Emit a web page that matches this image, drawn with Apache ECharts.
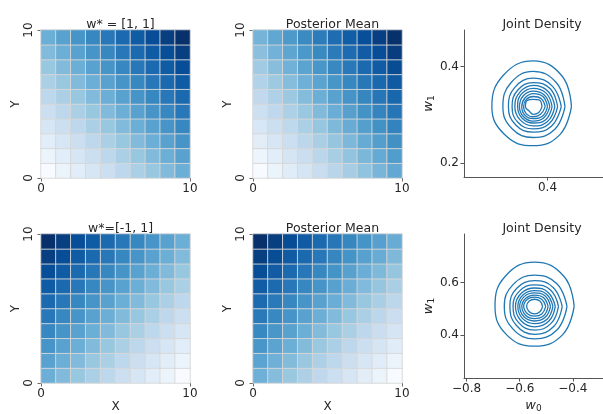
<!DOCTYPE html>
<html>
<head>
<meta charset="utf-8">
<script src="https://cdn.jsdelivr.net/npm/echarts@6/dist/echarts.min.js"></script>
<style>
  html, body { margin: 0; padding: 0; background: #fff; }
  #main { width: 603px; height: 414px; }
</style>
</head>
<body>
<div id="main"></div>
<script>
// cell indices (10 x 10 grid), rows listed bottom (y=0) to top
const cells = ['0', '1', '2', '3', '4', '5', '6', '7', '8', '9'];
const heatTicks = [0, 10];

const trueTop = [
  [1, 2, 3, 4, 5, 6, 7, 8, 9, 10],
  [2, 3, 4, 5, 6, 7, 8, 9, 10, 11],
  [3, 4, 5, 6, 7, 8, 9, 10, 11, 12],
  [4, 5, 6, 7, 8, 9, 10, 11, 12, 13],
  [5, 6, 7, 8, 9, 10, 11, 12, 13, 14],
  [6, 7, 8, 9, 10, 11, 12, 13, 14, 15],
  [7, 8, 9, 10, 11, 12, 13, 14, 15, 16],
  [8, 9, 10, 11, 12, 13, 14, 15, 16, 17],
  [9, 10, 11, 12, 13, 14, 15, 16, 17, 18],
  [10, 11, 12, 13, 14, 15, 16, 17, 18, 19]
];
const postTop = [
  [1.0, 2.05, 3.1, 4.15, 5.2, 6.25, 7.3, 8.35, 9.4, 10.45],
  [1.95, 3.0, 4.05, 5.1, 6.15, 7.2, 8.25, 9.3, 10.35, 11.4],
  [2.9, 3.95, 5.0, 6.05, 7.1, 8.15, 9.2, 10.25, 11.3, 12.35],
  [3.85, 4.9, 5.95, 7.0, 8.05, 9.1, 10.15, 11.2, 12.25, 13.3],
  [4.8, 5.85, 6.9, 7.95, 9.0, 10.05, 11.1, 12.15, 13.2, 14.25],
  [5.75, 6.8, 7.85, 8.9, 9.95, 11.0, 12.05, 13.1, 14.15, 15.2],
  [6.7, 7.75, 8.8, 9.85, 10.9, 11.95, 13.0, 14.05, 15.1, 16.15],
  [7.65, 8.7, 9.75, 10.8, 11.85, 12.9, 13.95, 15.0, 16.05, 17.1],
  [8.6, 9.65, 10.7, 11.75, 12.8, 13.85, 14.9, 15.95, 17.0, 18.05],
  [9.55, 10.6, 11.65, 12.7, 13.75, 14.8, 15.85, 16.9, 17.95, 19.0]
];
const trueBottom = [
  [0, -1, -2, -3, -4, -5, -6, -7, -8, -9],
  [1, 0, -1, -2, -3, -4, -5, -6, -7, -8],
  [2, 1, 0, -1, -2, -3, -4, -5, -6, -7],
  [3, 2, 1, 0, -1, -2, -3, -4, -5, -6],
  [4, 3, 2, 1, 0, -1, -2, -3, -4, -5],
  [5, 4, 3, 2, 1, 0, -1, -2, -3, -4],
  [6, 5, 4, 3, 2, 1, 0, -1, -2, -3],
  [7, 6, 5, 4, 3, 2, 1, 0, -1, -2],
  [8, 7, 6, 5, 4, 3, 2, 1, 0, -1],
  [9, 8, 7, 6, 5, 4, 3, 2, 1, 0]
];
const postBottom = [
  [0.0, -1.0, -1.9, -2.9, -3.9, -4.8, -5.8, -6.8, -7.7, -8.7],
  [1.0, 0.0, -0.9, -1.9, -2.9, -3.8, -4.8, -5.8, -6.7, -7.7],
  [2.0, 1.0, 0.1, -0.9, -1.9, -2.8, -3.8, -4.8, -5.7, -6.7],
  [3.0, 2.0, 1.1, 0.1, -0.9, -1.8, -2.8, -3.8, -4.7, -5.7],
  [4.0, 3.0, 2.1, 1.1, 0.1, -0.8, -1.8, -2.8, -3.7, -4.7],
  [5.0, 4.0, 3.1, 2.1, 1.1, 0.2, -0.8, -1.8, -2.7, -3.7],
  [6.0, 5.0, 4.1, 3.1, 2.1, 1.2, 0.2, -0.8, -1.7, -2.7],
  [7.0, 6.0, 5.1, 4.1, 3.1, 2.2, 1.2, 0.2, -0.7, -1.7],
  [8.0, 7.0, 6.1, 5.1, 4.1, 3.2, 2.2, 1.2, 0.3, -0.7],
  [9.0, 8.0, 7.1, 6.1, 5.1, 4.2, 3.2, 2.2, 1.3, 0.3]
];

const heatTitles = ['w* = [1, 1]', 'Posterior Mean', 'w*=[-1, 1]', 'Posterior Mean'];

// joint density contours (outer -> inner)
const topRings = [
  [[0.452, 0.317], [0.432, 0.380], [0.369, 0.412], [0.304, 0.382], [0.279, 0.317], [0.309, 0.257], [0.369, 0.236], [0.427, 0.259]],
  [[0.438, 0.317], [0.419, 0.367], [0.369, 0.390], [0.320, 0.366], [0.303, 0.317], [0.323, 0.271], [0.369, 0.253], [0.416, 0.270]],
  [[0.430, 0.317], [0.411, 0.359], [0.369, 0.376], [0.329, 0.357], [0.315, 0.317], [0.331, 0.279], [0.369, 0.264], [0.409, 0.277]],
  [[0.422, 0.317], [0.406, 0.354], [0.369, 0.367], [0.335, 0.351], [0.323, 0.317], [0.336, 0.284], [0.369, 0.271], [0.404, 0.282]],
  [[0.416, 0.317], [0.401, 0.349], [0.369, 0.361], [0.340, 0.347], [0.329, 0.317], [0.341, 0.289], [0.369, 0.277], [0.400, 0.286]],
  [[0.410, 0.317], [0.397, 0.345], [0.369, 0.355], [0.343, 0.343], [0.335, 0.317], [0.345, 0.293], [0.369, 0.283], [0.396, 0.290]],
  [[0.405, 0.317], [0.393, 0.341], [0.369, 0.349], [0.347, 0.339], [0.339, 0.317], [0.348, 0.296], [0.369, 0.287], [0.392, 0.294]],
  [[0.400, 0.317], [0.390, 0.338], [0.369, 0.344], [0.351, 0.335], [0.344, 0.317], [0.351, 0.299], [0.369, 0.292], [0.389, 0.297]],
  [[0.395, 0.317], [0.386, 0.334], [0.369, 0.338], [0.354, 0.332], [0.348, 0.317], [0.354, 0.302], [0.369, 0.296], [0.385, 0.301]],
  [[0.388, 0.317], [0.382, 0.331], [0.369, 0.332], [0.356, 0.330], [0.352, 0.317], [0.360, 0.308], [0.369, 0.301], [0.381, 0.305]]
];
const bottomRings = [
  [[-0.395, 0.509], [-0.433, 0.623], [-0.544, 0.678], [-0.655, 0.623], [-0.693, 0.509], [-0.649, 0.400], [-0.544, 0.357], [-0.439, 0.400]],
  [[-0.422, 0.509], [-0.460, 0.595], [-0.544, 0.628], [-0.625, 0.592], [-0.658, 0.509], [-0.626, 0.423], [-0.544, 0.385], [-0.459, 0.420]],
  [[-0.440, 0.509], [-0.474, 0.581], [-0.544, 0.607], [-0.611, 0.578], [-0.637, 0.509], [-0.613, 0.437], [-0.544, 0.402], [-0.471, 0.433]],
  [[-0.454, 0.509], [-0.484, 0.571], [-0.544, 0.591], [-0.601, 0.567], [-0.625, 0.509], [-0.604, 0.447], [-0.544, 0.418], [-0.482, 0.444]],
  [[-0.466, 0.509], [-0.493, 0.562], [-0.544, 0.579], [-0.593, 0.560], [-0.616, 0.509], [-0.596, 0.455], [-0.544, 0.431], [-0.490, 0.453]],
  [[-0.475, 0.509], [-0.499, 0.555], [-0.544, 0.569], [-0.587, 0.553], [-0.607, 0.509], [-0.589, 0.462], [-0.544, 0.443], [-0.497, 0.460]],
  [[-0.484, 0.509], [-0.505, 0.549], [-0.544, 0.560], [-0.582, 0.547], [-0.600, 0.509], [-0.583, 0.468], [-0.544, 0.453], [-0.504, 0.467]],
  [[-0.493, 0.509], [-0.511, 0.543], [-0.544, 0.552], [-0.576, 0.541], [-0.592, 0.509], [-0.577, 0.474], [-0.544, 0.462], [-0.510, 0.473]],
  [[-0.502, 0.509], [-0.517, 0.536], [-0.544, 0.544], [-0.571, 0.536], [-0.585, 0.509], [-0.571, 0.481], [-0.544, 0.472], [-0.517, 0.480]],
  [[-0.514, 0.509], [-0.524, 0.529], [-0.544, 0.536], [-0.564, 0.529], [-0.574, 0.509], [-0.564, 0.488], [-0.544, 0.480], [-0.524, 0.488]]
];
const topXTicks = [0.4];
const topYTicks = [0.2, 0.4];
const bottomXTicks = [-0.8, -0.6, -0.4];
const bottomYTicks = [0.4, 0.6];

const FONT = 'DejaVu Sans';
const TEXT = '#262626';
const blues = ['#f7fbff', '#deebf7', '#c6dbef', '#9ecae1', '#6baed6', '#4292c6', '#2171b5', '#08519c', '#08306b'];

const chart = echarts.init(document.getElementById('main'), null, { renderer: 'canvas' });

const grids = [
  { left: 41, top: 30, width: 149, height: 148 },
  { left: 253, top: 30, width: 149, height: 148 },
  { left: 41, top: 234, width: 149, height: 149 },
  { left: 253, top: 234, width: 149, height: 149 },
  { left: 464, top: 30, width: 146, height: 147 },
  { left: 464, top: 234, width: 146, height: 149 }
];

const heatData = [trueTop, postTop, trueBottom, postBottom];

const xAxis = [];
const yAxis = [];
const series = [];
const visualMap = [];
const titles = [];

const tickStyle = { show: true, length: 3.5, lineStyle: { color: '#444', width: 0.8 } };
const labelStyle = { color: TEXT, fontFamily: FONT, fontSize: 12 };

heatData.forEach(function (rows, g) {
  xAxis.push({ type: 'category', gridIndex: g, data: cells, show: false, position: 'bottom' });
  yAxis.push({ type: 'category', gridIndex: g, data: cells, show: false, position: 'left' });
  xAxis.push({
    type: 'value', gridIndex: g, min: 0, max: 10, interval: 10, position: 'bottom',
    name: g >= 2 ? 'X' : '', nameLocation: 'middle', nameGap: 18,
    nameTextStyle: { color: TEXT, fontFamily: FONT, fontSize: 12 },
    axisLine: { show: false, onZero: false }, axisTick: tickStyle,
    axisLabel: Object.assign({ margin: 5 }, labelStyle), splitLine: { show: false }
  });
  yAxis.push({
    type: 'value', gridIndex: g, min: 0, max: 10, interval: 10, position: 'left',
    name: 'Y', nameLocation: 'middle', nameGap: 18, nameRotate: 90,
    nameTextStyle: { color: TEXT, fontFamily: FONT, fontSize: 12 },
    axisLine: { show: false, onZero: false }, axisTick: tickStyle,
    axisLabel: Object.assign({ margin: 6, rotate: 90 }, labelStyle), splitLine: { show: false }
  });

  const data = [];
  let lo = Infinity, hi = -Infinity;
  rows.forEach(function (row, j) {
    row.forEach(function (v, i) {
      data.push([i, j, v]);
      lo = Math.min(lo, v);
      hi = Math.max(hi, v);
    });
  });
  series.push({
    type: 'heatmap', xAxisIndex: 2 * g, yAxisIndex: 2 * g, data: data,
    itemStyle: { borderColor: 'rgba(215,215,215,0.9)', borderWidth: 1 },
    emphasis: { disabled: true }
  });
  visualMap.push({
    show: false, seriesIndex: series.length - 1, min: lo, max: hi, dimension: 2,
    inRange: { color: blues }
  });

  const gr = grids[g];
  titles.push({
    text: heatTitles[g], left: gr.left + gr.width / 2, top: gr.top - 17, textAlign: 'center',
    textStyle: { color: TEXT, fontFamily: FONT, fontSize: 12.5, fontWeight: 'normal' }
  });
});

function fmt(v) {
  return v.toFixed(1).replace('-', '\u2212');
}

function densityAxes(g, xr, yr, xt, yt, showXName) {
  const line = { show: true, onZero: false, lineStyle: { color: '#555', width: 1 } };
  xAxis.push({
    type: 'value', gridIndex: g, min: xr[0], max: xr[1], position: 'bottom',
    name: showXName ? '{i|w}{s|0}' : '', nameLocation: 'middle', nameGap: 20,
    nameTextStyle: { rich: { i: { fontFamily: FONT, fontStyle: 'italic', fontSize: 13, color: TEXT }, s: { fontFamily: FONT, fontSize: 9, color: TEXT, verticalAlign: 'bottom', padding: [6, 0, 0, 0] } } },
    axisLine: line,
    axisTick: { show: true, length: 3.5, lineStyle: { color: '#555' }, customValues: xt },
    axisLabel: Object.assign({ margin: 5, customValues: xt, formatter: fmt }, labelStyle),
    splitLine: { show: false }
  });
  yAxis.push({
    type: 'value', gridIndex: g, min: yr[0], max: yr[1], position: 'left',
    name: '{i|w}{s|1}', nameLocation: 'middle', nameGap: 27, nameRotate: 90,
    nameTextStyle: { rich: { i: { fontFamily: FONT, fontStyle: 'italic', fontSize: 13, color: TEXT }, s: { fontFamily: FONT, fontSize: 9, color: TEXT, verticalAlign: 'bottom', padding: [6, 0, 0, 0] } } },
    axisLine: line,
    axisTick: { show: true, length: 3.5, lineStyle: { color: '#555' }, customValues: yt },
    axisLabel: Object.assign({ margin: 5, customValues: yt, formatter: fmt }, labelStyle),
    splitLine: { show: false }
  });
  const gr = grids[g];
  titles.push({
    text: 'Joint Density', left: gr.left + gr.width / 2, top: gr.top - 17, textAlign: 'center',
    textStyle: { color: TEXT, fontFamily: FONT, fontSize: 12.5, fontWeight: 'normal' }
  });
}

densityAxes(4, [0.2184, 0.5207], [0.171, 0.476], topXTicks, topYTicks, false);
densityAxes(5, [-0.8097, -0.2864], [0.2356, 0.785], bottomXTicks, bottomYTicks, true);

function ringSeries(rings, axisIdx) {
  rings.forEach(function (pts) {
    series.push({
      type: 'line', xAxisIndex: axisIdx, yAxisIndex: axisIdx,
      data: pts.concat([pts[0]]), smooth: 0.45, symbol: 'none',
      lineStyle: { color: '#1f77b4', width: 1.3 }, silent: true, animation: false
    });
  });
}
ringSeries(topRings, 8);
ringSeries(bottomRings, 9);

chart.setOption({
  animation: false,
  title: titles,
  grid: grids,
  xAxis: xAxis,
  yAxis: yAxis,
  visualMap: visualMap,
  series: series
});
</script>
</body>
</html>
